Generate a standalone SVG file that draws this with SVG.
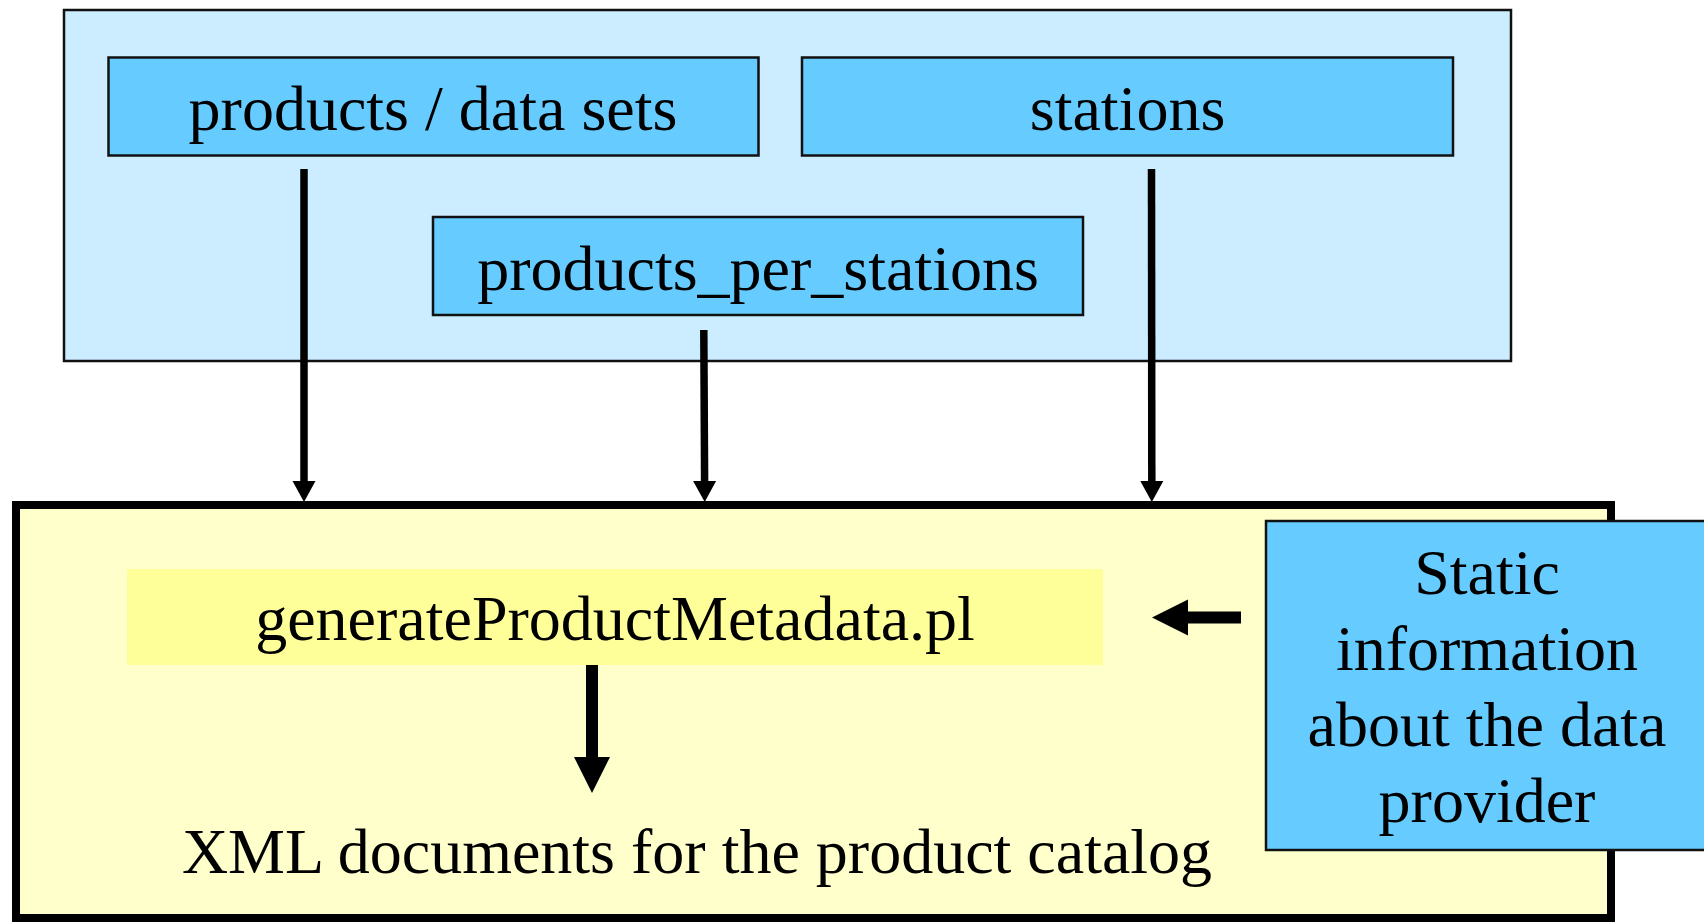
<svg xmlns="http://www.w3.org/2000/svg" width="1704" height="922" viewBox="0 0 1704 922">
  <style>
    .label { font-family: "Liberation Serif", "Times New Roman", serif; font-size: 64px; fill: #000; text-anchor: middle; }
    .panel { fill: #CCECFF; stroke: #111; stroke-width: 2.5; }
    .table { fill: #66CCFF; stroke: #111; stroke-width: 2.5; }
    .thin { stroke: #000; stroke-width: 7.5; fill: none; }
    .thick { stroke: #000; stroke-width: 12; fill: none; }
  </style>
  <defs>
    <marker id="headThin" markerUnits="userSpaceOnUse" markerWidth="22" markerHeight="24" refX="0" refY="11.5" orient="auto" overflow="visible">
      <path d="M0,0 L21,11.5 L0,23 Z" fill="#000"/>
    </marker>
    <marker id="headThick" markerUnits="userSpaceOnUse" markerWidth="37" markerHeight="37" refX="0" refY="18" orient="auto" overflow="visible">
      <path d="M0,0 L36,18 L0,36 Z" fill="#000"/>
    </marker>
  </defs>

  <rect width="1704" height="922" fill="#FFFFFF"/>

  <!-- database tables -->
  <g id="database">
    <rect class="panel" x="64" y="10" width="1447" height="351"/>
  </g>
  <g id="products">
    <rect class="table" x="108.5" y="57.5" width="650" height="98"/>
    <text class="label" x="433" y="130">products / data sets</text>
  </g>
  <g id="stations">
    <rect class="table" x="802" y="57.5" width="651" height="98"/>
    <text class="label" x="1127.5" y="130">stations</text>
  </g>
  <g id="products_per_stations">
    <rect class="table" x="433" y="217" width="650" height="98"/>
    <text class="label" x="758" y="290">products_per_stations</text>
  </g>

  <!-- metadata generator -->
  <g id="generator">
    <rect x="16" y="505" width="1595" height="413" fill="#FFFFCC" stroke="#000" stroke-width="8"/>
  </g>
  <g id="script">
    <rect x="127" y="569" width="976" height="96" fill="#FFFF99"/>
    <text class="label" x="615" y="640">generateProductMetadata.pl</text>
  </g>
  <g id="xml_documents">
    <text class="label" x="697" y="873">XML documents for the product catalog</text>
  </g>
  <g id="static_info">
    <rect class="table" x="1266" y="521" width="460" height="329"/>
    <text class="label" x="1487" y="594">Static</text>
    <text class="label" x="1487" y="670">information</text>
    <text class="label" x="1487" y="746">about the data</text>
    <text class="label" x="1487" y="822">provider</text>
  </g>

  <!-- connectors -->
  <g id="connectors">
    <line class="thin" x1="304" y1="169" x2="304" y2="481" marker-end="url(#headThin)"/>
    <line class="thin" x1="703.8" y1="330" x2="704.6" y2="481" marker-end="url(#headThin)"/>
    <line class="thin" x1="1151.5" y1="169" x2="1151.8" y2="481" marker-end="url(#headThin)"/>
    <line class="thick" x1="592" y1="665" x2="592" y2="757" marker-end="url(#headThick)"/>
    <line class="thick" x1="1241" y1="617.5" x2="1188" y2="617.5" marker-end="url(#headThick)"/>
  </g>
</svg>
